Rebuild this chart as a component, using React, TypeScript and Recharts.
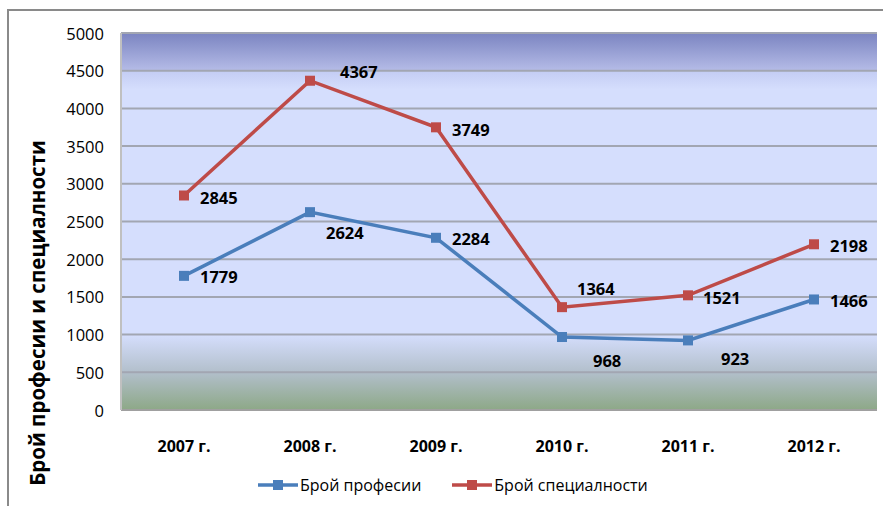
import { CartesianGrid, Line, LineChart, XAxis, YAxis } from 'recharts'

const years = ['2007 г.', '2008 г.', '2009 г.', '2010 г.', '2011 г.', '2012 г.']
const professions = [1779, 2624, 2284, 968, 923, 1466]
const specialties = [2845, 4367, 3749, 1364, 1521, 2198]
const yTicks = [0, 500, 1000, 1500, 2000, 2500, 3000, 3500, 4000, 4500, 5000]

// where each value label sits relative to its marker (Excel labels were moved by hand)
const profLabelShift = [[16, 1], [16, 20], [16, 1], [31, 23], [33, 18], [16, 1]]
const specLabelShift = [[16, 2], [30, -9], [16, 2], [15, -19], [15, 2], [16, 1]]

const BLUE = '#4a7ebb'
const RED = '#be4b48'
const FONT = '"Open Sans", "Noto Sans", sans-serif'

const data = years.map((year, i) => ({ year, prof: professions[i], spec: specialties[i] }))

const squareDot = (color: string) => (p: any) => (
  <rect key={`d-${p.index}`} x={p.cx - 5} y={p.cy - 5} width={10} height={10} fill={color} />
)

const valueLabel = (shift: number[][]) => (p: any) => (
  <text
    key={`l-${p.index}`}
    x={p.x + shift[p.index][0]}
    y={p.y + shift[p.index][1]}
    dominantBaseline="central"
    fontFamily={FONT}
    fontWeight="bold"
    fontSize={16.5}
    fill="#000"
  >
    {p.value}
  </text>
)

function LegendItem({ color, text }: { color: string; text: string }) {
  return (
    <div style={{ display: 'flex', alignItems: 'center', marginRight: 31 }}>
      <svg width={40} height={12}>
        <line x1={0} y1={6} x2={40} y2={6} stroke={color} strokeWidth={3.5} />
        <rect x={15} y={1} width={10} height={10} fill={color} />
      </svg>
      <span style={{ marginLeft: 2 }}>{text}</span>
    </div>
  )
}

export default function App() {
  return (
    <div style={{ position: 'absolute', left: 0, top: 0, width: 883, height: 506, background: '#fff', fontFamily: FONT }}>
      <div style={{ position: 'absolute', left: 7, top: 9, width: 876, height: 2, background: '#8a8a8a' }} />
      <div style={{ position: 'absolute', left: 7, top: 9, width: 2, height: 497, background: '#8a8a8a' }} />
      <LineChart width={883} height={506} data={data} margin={{ top: 33, right: 6, bottom: 36, left: 0 }}>
        <defs>
          <linearGradient id="plotBg" x1="0" y1="0" x2="0" y2="1">
            <stop offset="0" stopColor="#7b84c1" />
            <stop offset="0.1" stopColor="#b5bce7" />
            <stop offset="0.102" stopColor="#c4cdf4" />
            <stop offset="0.15" stopColor="#d5defd" />
            <stop offset="0.8" stopColor="#d5defd" />
            <stop offset="0.9" stopColor="#b2bfcb" />
            <stop offset="1" stopColor="#8da887" />
          </linearGradient>
        </defs>
        <CartesianGrid vertical={false} fill="url(#plotBg)" fillOpacity={1} stroke="#a2a6b2" strokeWidth={2} />
        <XAxis
          dataKey="year"
          height={60}
          padding={{ left: 63, right: 63 }}
          axisLine={{ stroke: '#a0a0a0', strokeWidth: 2 }}
          tickLine={false}
          tick={(p: any) => (
            <text x={p.x} y={p.y + 28} textAnchor="middle" dominantBaseline="central" fontFamily={FONT} fontWeight="bold" fontSize={16} fill="#000">
              {p.payload.value}
            </text>
          )}
        />
        <YAxis
          width={121}
          domain={[0, 5000]}
          ticks={yTicks}
          axisLine={{ stroke: '#c0c0c0', strokeWidth: 2 }}
          tickLine={false}
          tick={(p: any) => (
            <text x={104} y={p.y} textAnchor="end" dominantBaseline="central" fontFamily={FONT} fontSize={16.5} fill="#000">
              {p.payload.value}
            </text>
          )}
          label={() => (
            <text x={37} y={313} transform="rotate(-90 37 313)" textAnchor="middle" dominantBaseline="central" fontFamily={FONT} fontWeight="bold" fontSize={20.5} fill="#000">
              Брой професии и специалности
            </text>
          )}
        />
        <Line
          dataKey="prof"
          stroke={BLUE}
          strokeWidth={3.5}
          dot={squareDot(BLUE)}
          label={valueLabel(profLabelShift)}
          isAnimationActive={false}
        />
        <Line
          dataKey="spec"
          stroke={RED}
          strokeWidth={3.5}
          dot={squareDot(RED)}
          label={valueLabel(specLabelShift)}
          isAnimationActive={false}
        />
      </LineChart>
      <div style={{ position: 'absolute', left: 258, top: 474, display: 'flex', fontSize: 16, color: '#000' }}>
        <LegendItem color={BLUE} text="Брой професии" />
        <LegendItem color={RED} text="Брой специалности" />
      </div>
    </div>
  )
}
